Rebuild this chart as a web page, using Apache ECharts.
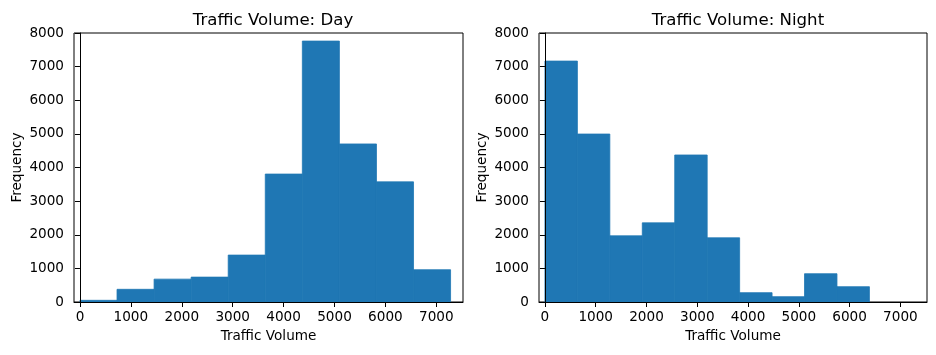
<!DOCTYPE html>
<html>
<head>
<meta charset="utf-8">
<script src="https://cdn.jsdelivr.net/npm/echarts@6/dist/echarts.min.js"></script>
<style>
html,body{margin:0;padding:0;background:#fff;}
#chart{width:936px;height:355px;}
</style>
</head>
<body>
<div id="chart"></div>
<script>
// Day histogram: bin edges and counts
var dayEdges = [0, 728, 1456, 2184, 2912, 3640, 4368, 5096, 5824, 6552, 7280];
var dayCounts = [50, 377, 680, 740, 1395, 3805, 7760, 4700, 3573, 960];
// Night histogram: bin edges and counts
var nightEdges = [0, 639, 1278, 1917, 2556, 3195, 3834, 4473, 5112, 5751, 6390];
var nightCounts = [7165, 4995, 1968, 2354, 4372, 1909, 277, 158, 841, 455];
// Tick labels
var xTicks = [0, 1000, 2000, 3000, 4000, 5000, 6000, 7000];
var titles = ['Traffic Volume: Day', 'Traffic Volume: Night'];
var xName = 'Traffic Volume';
var yName = 'Frequency';

function toData(edges, counts) {
  var out = [];
  for (var i = 0; i < counts.length; i++) out.push([edges[i], edges[i + 1], counts[i]]);
  return out;
}

var FONT = 'DejaVu Sans';
var txt = '#000';
var BAR = '#1f77b4';
var FS = 13.6;

function renderBar(params, api) {
  var p0 = api.coord([api.value(0), api.value(2)]);
  var p1 = api.coord([api.value(1), 0]);
  return {
    type: 'rect',
    shape: { x: p0[0], y: p0[1], width: p1[0] - p0[0], height: p1[1] - p0[1] },
    style: { fill: BAR, stroke: BAR, lineWidth: 0.8 }
  };
}
function plain(v) { return String(Math.round(v)); }

function xAxisCfg(idx) {
  return {
    type: 'value', gridIndex: idx, min: -117, max: 7524, z: 5,
    name: xName, nameLocation: 'middle', nameGap: 27,
    nameTextStyle: { fontFamily: FONT, fontSize: FS, color: txt },
    splitLine: { show: false },
    axisLine: { show: true, lineStyle: { color: '#000', width: 1 } },
    axisTick: { show: true, inside: false, length: 5, lineStyle: { color: '#000' }, customValues: xTicks },
    axisLabel: { fontFamily: FONT, fontSize: FS, color: txt, margin: 8, customValues: xTicks, formatter: plain }
  };
}
function yAxisCfg(idx) {
  return {
    type: 'value', gridIndex: idx, min: 0, max: 8000, interval: 1000, z: 5,
    name: yName, nameLocation: 'middle', nameGap: 50, nameRotate: 90,
    nameTextStyle: { fontFamily: FONT, fontSize: FS, color: txt },
    splitLine: { show: false },
    axisLine: { show: true, lineStyle: { color: '#000', width: 1 } },
    axisTick: { show: true, inside: false, length: 5, lineStyle: { color: '#000' } },
    axisLabel: { fontFamily: FONT, fontSize: FS, color: txt, margin: 10, formatter: plain }
  };
}

var chart = echarts.init(document.getElementById('chart'), null, { renderer: 'canvas' });
chart.setOption({
  backgroundColor: '#fff',
  animation: false,
  title: [
    { text: titles[0], left: 268, top: 7, textAlign: 'center',
      textStyle: { fontFamily: FONT, fontSize: 16.6, fontWeight: 'normal', color: txt } },
    { text: titles[1], left: 733, top: 7, textAlign: 'center',
      textStyle: { fontFamily: FONT, fontSize: 16.6, fontWeight: 'normal', color: txt } }
  ],
  grid: [
    { left: 74, top: 33, width: 389, height: 269, show: true, borderColor: '#000', borderWidth: 1, backgroundColor: 'transparent', containLabel: false },
    { left: 539, top: 33, width: 388, height: 269, show: true, borderColor: '#000', borderWidth: 1, backgroundColor: 'transparent', containLabel: false }
  ],
  xAxis: [xAxisCfg(0), xAxisCfg(1)],
  yAxis: [yAxisCfg(0), yAxisCfg(1)],
  series: [
    { type: 'custom', xAxisIndex: 0, yAxisIndex: 0, renderItem: renderBar,
      encode: { x: [0, 1], y: 2 }, data: toData(dayEdges, dayCounts) },
    { type: 'custom', xAxisIndex: 1, yAxisIndex: 1, renderItem: renderBar,
      encode: { x: [0, 1], y: 2 }, data: toData(nightEdges, nightCounts) }
  ]
});
</script>
</body>
</html>
